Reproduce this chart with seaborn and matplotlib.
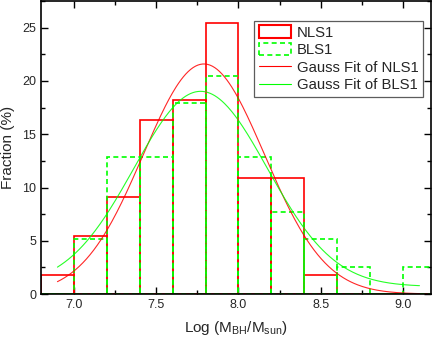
import numpy as np
import pandas as pd
import matplotlib
matplotlib.use("Agg")
import matplotlib.pyplot as plt
import seaborn as sns
from matplotlib.patches import Patch
from matplotlib.lines import Line2D
from matplotlib.ticker import MultipleLocator

# ---- data ----
bin_edges = [6.8, 7.0, 7.2, 7.4, 7.6, 7.8, 8.0, 8.2, 8.4, 8.6, 8.8, 9.0, 9.2]
nls1_frac = [1.82, 5.45, 9.09, 16.36, 18.18, 25.45, 10.91, 10.91, 1.82, 0.0, 0.0, 0.0]
bls1_frac = [0.0, 5.13, 12.82, 12.82, 17.95, 20.51, 12.82, 7.69, 5.13, 2.56, 0.0, 2.56]
# Gauss fit parameters (y0, amplitude, centre, sigma)
nls1_fit = dict(y0=0.0, A=21.6, xc=7.79, s=0.368)
bls1_fit = dict(y0=0.7, A=18.33, xc=7.77, s=0.405)
fit_range = [6.9, 9.1]
labels = ["NLS1", "BLS1", "Gauss Fit of NLS1", "Gauss Fit of BLS1"]

RED = "#ff0000"
GREEN = "#00ff00"

sns.set_style("ticks")
plt.rcParams["font.family"] = ["Liberation Sans", "DejaVu Sans"]
plt.rcParams["mathtext.fontset"] = "custom"
plt.rcParams["mathtext.rm"] = "Liberation Sans"

fig = plt.figure(figsize=(4.36, 3.39), dpi=100)
ax = fig.add_axes([0.094, 0.1327, 0.8945, 0.864])

centers = [(a + b) / 2 for a, b in zip(bin_edges[:-1], bin_edges[1:])]
df_n = pd.DataFrame({"x": centers, "w": nls1_frac})
df_b = pd.DataFrame({"x": centers, "w": bls1_frac})

sns.histplot(data=df_n, x="x", weights="w", bins=bin_edges, fill=False,
             element="bars", color=RED, linewidth=1.2, ax=ax)
sns.histplot(data=df_b, x="x", weights="w", bins=bin_edges, fill=False,
             element="bars", color=GREEN, linewidth=1.2, linestyle=(0, (3, 2)), ax=ax)

xs = np.linspace(fit_range[0], fit_range[1], 300)
def gauss(p):
    return p["y0"] + p["A"] * np.exp(-(xs - p["xc"]) ** 2 / (2 * p["s"] ** 2))

sns.lineplot(x=xs, y=gauss(nls1_fit), color=RED, linewidth=0.8, alpha=0.85, ax=ax)
sns.lineplot(x=xs, y=gauss(bls1_fit), color=GREEN, linewidth=0.8, alpha=0.85, ax=ax)

ax.set_xlim(6.8, 9.17)
ax.set_ylim(0, 27.5)
ax.xaxis.set_major_locator(MultipleLocator(0.5))
ax.xaxis.set_minor_locator(MultipleLocator(0.25))
ax.yaxis.set_major_locator(MultipleLocator(5))
ax.yaxis.set_minor_locator(MultipleLocator(2.5))
ax.tick_params(which="both", direction="in", top=True, right=True,
               labeltop=False, labelright=False, width=1.0, color="black")
ax.tick_params(which="major", length=5, labelsize=9)
ax.tick_params(which="minor", length=3)
ax.xaxis.set_major_formatter(matplotlib.ticker.FormatStrFormatter("%.1f"))
ax.yaxis.set_major_formatter(matplotlib.ticker.FormatStrFormatter("%d"))
for sp in ax.spines.values():
    sp.set_linewidth(1.2)
    sp.set_color("black")

ax.set_xlabel(r"Log (M$_\mathrm{BH}$/M$_\mathrm{sun}$)", fontsize=11, labelpad=6)
ax.set_ylabel("Fraction (%)", fontsize=11, labelpad=5)

handles = [
    Patch(facecolor="white", edgecolor=RED, linewidth=1.5),
    Patch(facecolor="white", edgecolor=GREEN, linewidth=1.2, linestyle=(0, (3, 2))),
    Line2D([], [], color=RED, linewidth=0.8),
    Line2D([], [], color=GREEN, linewidth=0.8),
]
leg = ax.legend(handles, labels, loc="upper right", bbox_to_anchor=(0.979, 0.932),
                borderaxespad=0, fontsize=10.7, frameon=True, fancybox=False,
                handlelength=2.2, handleheight=0.9, handletextpad=0.35,
                labelspacing=0.22, borderpad=0.3)
leg.get_frame().set_edgecolor("#333333")
leg.get_frame().set_linewidth(0.9)

fig.savefig("out.png", dpi=100)
